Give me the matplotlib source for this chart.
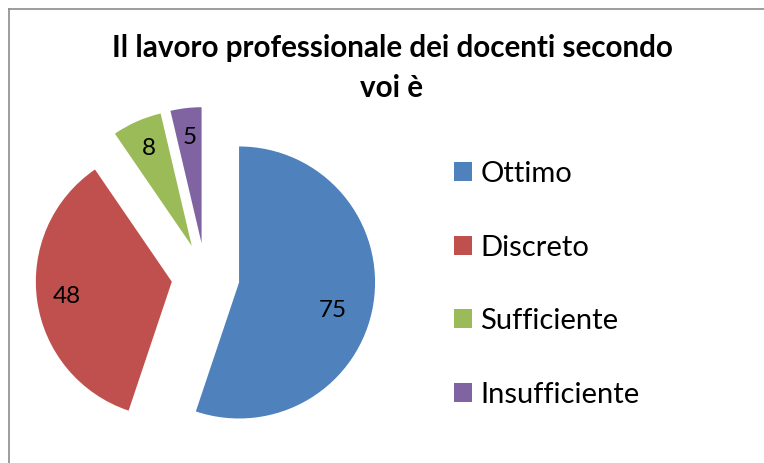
import numpy as np
import matplotlib
matplotlib.use("Agg")
import matplotlib.pyplot as plt
from matplotlib.lines import Line2D

# ── data ─────────────────────────────────────────────────────────────────────
categories = ["Ottimo", "Discreto", "Sufficiente", "Insufficiente"]
values     = [75, 48, 8, 5]
title_l1   = "Il lavoro professionale dei docenti secondo"
title_l2   = "voi è"

COLORS = ["#4F81BD", "#C0504D", "#9BBB59", "#8064A2"]
FONT   = "Lato"
W, H   = 764, 463
R_PX   = 136          # pie radius in pixels
CX, CY = 205.5, 277   # pie centre (pixels, from top-left)

fig = plt.figure(figsize=(W / 100, H / 100), dpi=100)
fig.patch.set_facecolor("white")

ax = fig.add_axes([0, 0, 1, 1])

wedges, texts, autotexts = ax.pie(
    values,
    colors=COLORS,
    startangle=90,
    counterclock=False,
    explode=[0.25] * len(values),
    radius=1,
    autopct=lambda p: f"{p * sum(values) / 100:.0f}",
    pctdistance=0.78,
    wedgeprops={"linewidth": 0},
    textprops={"fontsize": 17.5, "family": FONT, "color": "black"},
)
# the big slice's label sits a bit lower/inner in the original
cx0, cy0 = wedges[0].center
ang = np.deg2rad(-16.6)
autotexts[0].set_position((cx0 + 0.72 * np.cos(ang), cy0 + 0.72 * np.sin(ang)))

# pie() resets the view, so set it afterwards
ax.set_xlim(-CX / R_PX, (W - CX) / R_PX)
ax.set_ylim(-(H - CY) / R_PX, CY / R_PX)
ax.set_aspect("equal")
ax.axis("off")

# title, two lines
fig.text(392 / W, 1 - 57 / H, title_l1, ha="center", va="baseline",
         fontsize=21.3, fontweight="bold", family=FONT)
fig.text(392 / W, 1 - 97 / H, title_l2, ha="center", va="baseline",
         fontsize=21.3, fontweight="bold", family=FONT)

# legend
fig.legend(wedges, categories, loc="upper left",
           bbox_to_anchor=(454 / W, 1 - 161 / H),
           frameon=False, prop={"family": FONT, "size": 21},
           handlelength=0.62, handleheight=0.62, handletextpad=0.28,
           labelspacing=1.63, borderpad=0, borderaxespad=0)

# chart border (right/bottom edges run off the image)
bc = "#8C8C8C"
fig.add_artist(Line2D([9 / W, 9 / W], [0, 1 - 9 / H], color=bc, lw=1.2))
fig.add_artist(Line2D([9 / W, 1], [1 - 9 / H, 1 - 9 / H], color=bc, lw=1.2))

fig.savefig("out.png", dpi=100, facecolor="white")
